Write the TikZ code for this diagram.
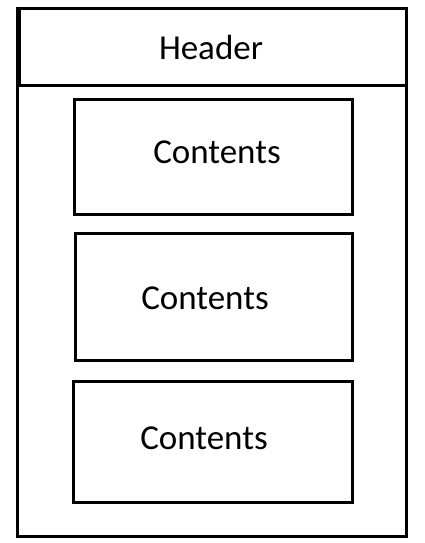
\documentclass[tikz,border=0pt]{standalone}
\usepackage{fontspec}
\setmainfont{Carlito}
\usepackage{tikz}
\usetikzlibrary{positioning}

\tikzset{
    frame/.style={draw, line width=3pt, inner sep=0pt},
    headbar/.style={draw, line width=3.5pt, inner sep=0pt},
    label/.style={font=\fontsize{35}{41}\selectfont, inner sep=0pt}
}

\begin{document}
\begin{tikzpicture}[x=1pt,y=-1pt]
        \useasboundingbox (0,0) rectangle (425,543);
        \node[frame, minimum width=389pt, minimum height=527.5pt] at (212,272.25) (page){};
        \node[headbar, minimum width=387pt, minimum height=77pt] at (213,47) (head){};
        \node[frame, minimum width=277.5pt, minimum height=115.3pt] at (213.25,156.65) (box1){};
        \node[frame, minimum width=276.5pt, minimum height=127pt] at (213.75,296.5) (box2){};
        \node[frame, minimum width=278.5pt, minimum height=121.3pt] at (212.75,441.65) (box3){};

        \node[label] at (211,47) (headtext){Header};
        \node[label] at (217,152) (text1){Contents};
        \node[label] at (205,298) (text2){Contents};
        \node[label] at (204,438) (text3){Contents};
    \end{tikzpicture}
\end{document}
